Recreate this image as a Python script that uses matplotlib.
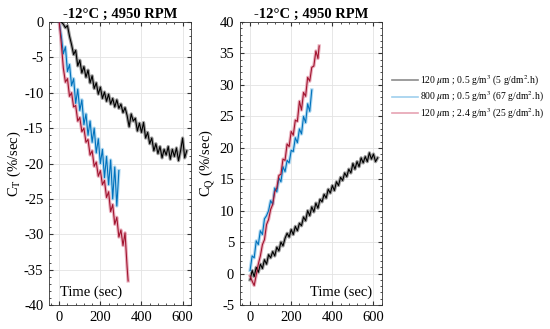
import numpy as np
import matplotlib.pyplot as plt
from matplotlib.lines import Line2D
from matplotlib.ticker import AutoMinorLocator

plt.rcParams['font.family'] = ['Liberation Serif', 'DejaVu Serif']
plt.rcParams['mathtext.fontset'] = 'stix'
plt.rcParams['axes.unicode_minus'] = False

# C_T data (left panel)
t_ct_k = np.arange(10, 630, 10)
ct_k = [0.0, -0.3, -0.8, -0.5, -2.0, -3.2, -4.6, -4.0, -6.2, -5.4,
        -7.2, -6.3, -7.8, -6.8, -8.6, -7.6, -9.4, -8.6, -10.2, -9.2,
        -10.8, -9.9, -11.2, -10.2, -11.6, -10.8, -12.0, -11.0, -12.2, -11.6,
        -12.8, -12.1, -13.2, -14.8, -13.0, -14.0, -13.6, -15.4, -14.3, -15.6,
        -14.2, -16.4, -15.6, -17.2, -16.4, -18.2, -17.2, -18.6, -17.6, -19.2,
        -18.0, -18.8, -17.6, -19.4, -18.0, -19.0, -17.8, -19.6, -18.2, -16.4,
        -19.2, -18.2]
t_ct_k = t_ct_k[:len(ct_k)]

t_ct_b = np.arange(0, 300, 10)
ct_b = [0.0, -2.0, -4.5, -3.5, -7.0, -6.0, -9.0, -8.0, -11.5, -9.5,
        -12.5, -11.0, -14.5, -13.0, -16.0, -14.0, -17.0, -15.0, -18.5, -16.5,
        -20.0, -18.0, -22.0, -19.0, -23.0, -19.5, -25.0, -20.5, -26.0, -21.0]

t_ct_r = list(range(0, 340, 10)) + [335]
ct_r = [0.0, -3.0, -6.5, -8.5, -8.0, -10.5, -10.0, -12.0, -11.8, -14.0,
        -13.5, -15.5, -15.0, -17.0, -16.6, -18.8, -18.2, -20.4, -19.8, -21.8,
        -21.0, -23.0, -22.4, -24.8, -24.0, -26.8, -25.8, -28.6, -27.6, -30.4,
        -29.4, -31.6, -29.8, -34.6, -36.6]

# C_Q data (right panel)
t_cq_k = np.arange(0, 630, 10)
cq_k = [-1.0, 0.5, -0.5, 1.0, 0.2, 1.5, 0.8, 2.2, 1.5, 3.0,
        2.5, 3.5, 2.8, 4.2, 3.6, 5.0, 4.4, 5.6, 6.4, 5.8,
        7.0, 6.2, 7.5, 6.8, 8.0, 7.6, 9.0, 8.4, 10.0, 9.2,
        10.6, 9.8, 11.2, 10.4, 11.8, 11.4, 12.6, 12.0, 13.4, 12.8,
        14.0, 13.2, 14.6, 14.0, 15.3, 14.8, 16.0, 15.4, 16.6, 16.0,
        17.5, 16.6, 17.8, 17.0, 18.4, 17.6, 18.6, 17.8, 19.2, 18.2,
        19.0, 17.8, 18.4]

t_cq_b = np.arange(0, 310, 10)
cq_b = [0.5, 2.8, 2.5, 5.2, 4.6, 6.8, 6.2, 8.7, 9.2, 10.0,
        11.6, 11.0, 13.6, 13.0, 15.2, 14.6, 17.0, 16.2, 18.0, 17.6,
        19.6, 19.4, 21.6, 20.8, 23.0, 22.2, 25.0, 24.0, 27.0, 25.8,
        29.2]

t_cq_r = list(range(0, 340, 10)) + [336]
cq_r = [-0.4, -1.2, -1.9, -0.2, 1.5, 2.8, 4.6, 5.4, 7.8, 8.6,
        10.2, 11.0, 13.0, 13.6, 15.6, 15.8, 18.2, 18.0, 20.6, 20.2,
        22.6, 22.0, 24.4, 24.2, 27.4, 26.0, 28.8, 28.2, 31.2, 30.6,
        32.8, 33.0, 35.4, 34.2, 36.2]

labels = [r'120 $\mu$m ; 0.5 g/m$^3$ (5 g/dm$^2$.h)',
          r'800 $\mu$m ; 0.5 g/m$^3$ (67 g/dm$^2$.h)',
          r'120 $\mu$m ; 2.4 g/m$^3$ (25 g/dm$^2$.h)']

dark = ['#000000', '#0072BD', '#A2142F']
light = ['#8c8c8c', '#9fd0ee', '#e6a3b3']

fig = plt.figure(figsize=(5.5, 3.29), dpi=100)
ax1 = fig.add_axes([0.089, 0.073, 0.258, 0.860])
ax2 = fig.add_axes([0.436, 0.073, 0.258, 0.860])


def draw(ax, series):
    for (t, y), dc, lc in zip(series, dark, light):
        ax.plot(t, y, color=lc, lw=2.4, alpha=0.85, zorder=2)
        ax.plot(t, y, color=dc, lw=0.8, zorder=3)


draw(ax1, [(t_ct_k, ct_k), (t_ct_b, ct_b), (t_ct_r, ct_r)])
draw(ax2, [(t_cq_k, cq_k), (t_cq_b, cq_b), (t_cq_r, cq_r)])

for ax, ylim, ystep in [(ax1, (-40, 0), 5), (ax2, (-5, 40), 5)]:
    ax.set_xlim(-50, 640)
    ax.set_ylim(*ylim)
    ax.set_xticks([0, 200, 400, 600])
    ax.set_yticks(np.arange(ylim[0], ylim[1] + 1, ystep))
    ax.xaxis.set_minor_locator(AutoMinorLocator(5))
    ax.yaxis.set_minor_locator(AutoMinorLocator(5))
    ax.tick_params(which='both', direction='in', top=True, right=True,
                   labelsize=10.5, color='#333333')
    ax.tick_params(which='major', length=3, pad=4)
    ax.tick_params(which='minor', length=1.5)
    ax.grid(True, color='#e3e3e3', lw=0.6, zorder=0)
    ax.set_axisbelow(True)
    for s in ax.spines.values():
        s.set_color('#333333')
        s.set_linewidth(0.6)
    ax.set_title('-12°C ; 4950 RPM', fontsize=10.5, fontweight='bold', pad=3)

ax1.set_ylabel(r'C$_\mathrm{T}$ (%/sec)', fontsize=10.5, labelpad=1)
ax2.set_ylabel(r'C$_\mathrm{Q}$ (%/sec)', fontsize=10.5, labelpad=1)
ax1.text(0.08, 0.045, 'Time (sec)', transform=ax1.transAxes, fontsize=10.5,
         ha='left', va='center')
ax2.text(0.93, 0.045, 'Time (sec)', transform=ax2.transAxes, fontsize=10.5,
         ha='right', va='center')

handles = [Line2D([], [], color=c, lw=1.2) for c in light]
fig.legend(handles, labels, loc='center left', bbox_to_anchor=(0.712, 0.705),
           frameon=False, fontsize=6.9, handlelength=2.8, handletextpad=0.2,
           labelspacing=0.2, borderaxespad=0, borderpad=0)

fig.savefig('out.png', dpi=100)
